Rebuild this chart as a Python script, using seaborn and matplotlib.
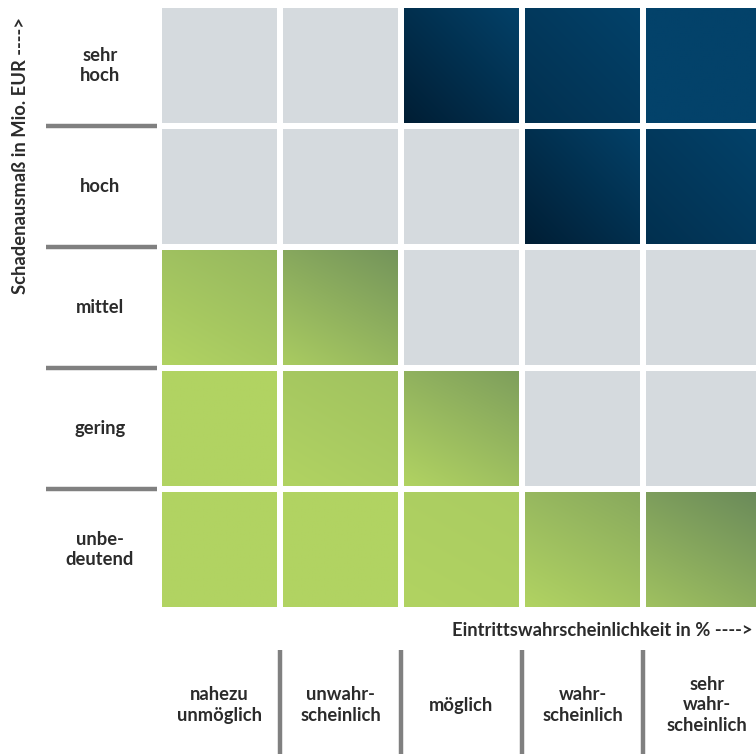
import numpy as np
import matplotlib
matplotlib.use("Agg")
import matplotlib.pyplot as plt
from matplotlib.colors import ListedColormap, to_rgb
import seaborn as sns

# ---- data ----
impact_labels = ["sehr\nhoch", "hoch", "mittel", "gering", "unbe-\ndeutend"]
likelihood_labels = ["nahezu\nunmöglich", "unwahr-\nscheinlich", "möglich",
                     "wahr-\nscheinlich", "sehr\nwahr-\nscheinlich"]
# risk class per cell (rows: impact top->bottom, cols: likelihood left->right)
# 0 = neutral, 1 = low risk (green), 2 = high risk (blue)
risk_sehr_hoch = [0, 0, 2, 2, 2]
risk_hoch = [0, 0, 0, 2, 2]
risk_mittel = [1, 1, 0, 0, 0]
risk_gering = [1, 1, 1, 0, 0]
risk_unbedeutend = [1, 1, 1, 1, 1]
x_title = "Eintrittswahrscheinlichkeit in % ---->"
y_title = "Schadenausmaß in Mio. EUR ---->"

risk = np.array([risk_sehr_hoch, risk_hoch, risk_mittel, risk_gering, risk_unbedeutend])

# ---- style ----
sns.set_theme(style="white")
plt.rcParams["font.family"] = ["Lato", "DejaVu Sans"]
GRAY = "#D5DADE"
GREEN_L = np.array(to_rgb("#B1D362"))
GREEN_D = np.array(to_rgb("#6A8A5A"))
BLUE = np.array(to_rgb("#03426A"))
BLUE_D = np.array(to_rgb("#00172A"))
TXT = "#2B2B2B"
SEP = "#808080"

W, H = 756, 754
fig = plt.figure(figsize=(W / 100, H / 100), dpi=100)
pitch = 121
left_px, top_px = 159, 5
ax = fig.add_axes([left_px / W, 1 - (top_px + 5 * pitch) / H, 5 * pitch / W, 5 * pitch / H])

cmap = ListedColormap([GRAY, tuple(GREEN_L), tuple(BLUE)])
sns.heatmap(risk, cmap=cmap, vmin=-0.5, vmax=2.5, cbar=False, ax=ax,
            linewidths=4.3, linecolor="white", square=False)
ax.set_xticks([])
ax.set_yticks([])
for sp in ax.spines.values():
    sp.set_visible(False)

# gradient overlays
n = 80
g = 3 / pitch
fx = np.linspace(0, 1, n)[None, :].repeat(n, 0)
fy = np.linspace(1, 0, n)[:, None].repeat(n, 1)
nrows, ncols = risk.shape
for r in range(nrows):
    rb = nrows - 1 - r
    for c in range(ncols):
        k = risk[r, c]
        if k == 1:
            u = (0.45 * fx + 0.8 * fy) / 1.25
            s = c + 1.3 * rb
            t_end = np.clip((s - 1.8) / 2.1, 0, 1)
            t_start = np.clip(t_end - 0.75, 0, 1)
            t = t_start + (t_end - t_start) * u
            img = GREEN_L[None, None, :] * (1 - t[..., None]) + GREEN_D[None, None, :] * t[..., None]
        elif k == 2:
            u = (fx + fy) / 2
            s = c + rb
            d_start = np.clip((8 - s) / 2.2, 0, 1) * 0.92
            d_end = max(0.0, d_start - 0.8)
            d = d_start + (d_end - d_start) * u
            img = BLUE[None, None, :] * (1 - d[..., None]) + BLUE_D[None, None, :] * d[..., None]
        else:
            continue
        ax.imshow(img, extent=(c + g, c + 1 - g, r + 1 - g, r + g), origin="upper",
                  aspect="auto", interpolation="bilinear", zorder=3)

ax.set_xlim(0, 5)
ax.set_ylim(5, 0)

fs = 13.2
ls = 1.22
# row labels
for i, lab in enumerate(impact_labels):
    ax.text((100 - left_px) / pitch, i + 0.5, lab, ha="center", va="center",
            fontsize=fs, fontweight="bold", color=TXT, linespacing=ls, clip_on=False)
# column labels
for j, lab in enumerate(likelihood_labels):
    ax.text(j + 0.5 + (0.03 if j == 4 else 0), (705 - top_px) / pitch, lab, ha="center", va="center",
            fontsize=fs, fontweight="bold", color=TXT, linespacing=ls, clip_on=False)

# separators
for i in range(1, 5):
    ax.plot([(46 - left_px) / pitch, (157 - left_px) / pitch], [i, i], color=SEP,
            lw=3.2, solid_capstyle="butt", clip_on=False)
    ax.plot([i, i], [(650 - top_px) / pitch, (760 - top_px) / pitch], color=SEP,
            lw=3.2, solid_capstyle="butt", clip_on=False)

ax.text((753 - left_px) / pitch, (631 - top_px) / pitch, x_title, ha="right", va="center",
        fontsize=fs, fontweight="bold", color=TXT, clip_on=False)
ax.text((20 - left_px) / pitch, (155 - top_px) / pitch, y_title, ha="center", va="center",
        rotation=90, fontsize=fs, fontweight="bold", color=TXT, clip_on=False)

fig.savefig("out.png", dpi=100, facecolor="white")
